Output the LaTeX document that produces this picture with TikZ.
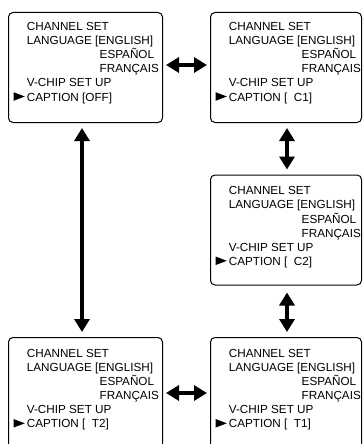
\documentclass[tikz,border=0pt]{standalone}
\usepackage{fontspec}
\setmainfont{Liberation Sans}
\usetikzlibrary{arrows.meta,calc}
\tikzset{
  menubox/.style={draw=black, line width=1pt, rounded corners=4.5pt, inner sep=0pt, anchor=north west},
  menutext/.style={anchor=base west, inner sep=0pt, font=\fontsize{11.7}{14}\selectfont},
  dblarrow/.style={line width=4.6pt, {Triangle[width=15pt,length=13pt]}-{Triangle[width=15pt,length=13pt]}},
  marker/.style={fill=black}
}
% #1 name, #2 x0, #3 y0, #4 width, #5 first-baseline offset, #6 caption value, #7 height
\newcommand\menubox[7]{%
  \node[menubox, minimum width=#4pt, minimum height=#7pt] (#1) at (#2,-#3) {};
  \node[menutext] (#1l1) at ({#2+18.7},{-(#3+#5)}) {CHANNEL SET};
  \node[menutext] (#1l2) at ({#2+18.7},{-(#3+#5+14.1)}) {LANGUAGE [ENGLISH]};
  \node[menutext] (#1l3) at ({#2+91.5},{-(#3+#5+28.2)}) {ESPAÑOL};
  \node[menutext] (#1l4) at ({#2+91.5},{-(#3+#5+42.3)}) {FRANÇAIS};
  \node[menutext] (#1l5) at ({#2+18.7},{-(#3+#5+56.4)}) {V-CHIP SET UP};
  \node[menutext] (#1l6) at ({#2+18.7},{-(#3+#5+70.5)}) {CAPTION #6};
  \fill[marker] ({#2+5.5},{-(#3+#5+70.5)+0.2}) -- ({#2+5.5},{-(#3+#5+70.5)+8.8}) -- ({#2+16.8},{-(#3+#5+70.5)+4.5}) -- cycle;
}
\begin{document}
\begin{tikzpicture}[x=1pt,y=1pt]
\useasboundingbox (0,0) rectangle (362,-444);
\clip (0,0) rectangle (362,-444);
\menubox{b1}{8}{12}{154}{18.5}{[OFF]}{110}
\menubox{b2}{210}{12}{151}{18.5}{[\ \ C1]}{110}
\menubox{b3}{210}{174.5}{151}{20.3}{[\ \ C2]}{110}
\menubox{b4}{8}{337}{154}{20.3}{[\ \ T2]}{130}
\menubox{b5}{210}{337}{151}{20.3}{[\ \ T1]}{130}
% arrows
\draw[dblarrow] ([xshift=3pt]b1.east |- 0,-65) -- ([xshift=-3pt]b2.west |- 0,-65);
\draw[dblarrow] ([xshift=3pt]b4.east |- 0,-393) -- ([xshift=-3pt]b5.west |- 0,-393);
\path (287,0 |- b2.south) ++(0,-5) coordinate (v1a) (287,0 |- b3.north) ++(0,5) coordinate (v1b);
\draw[dblarrow] (v1a) -- (v1b);
\path (287,0 |- b3.south) ++(0,-7) coordinate (v2a) (287,0 |- b5.north) ++(0,5) coordinate (v2b);
\draw[dblarrow] (v2a) -- (v2b);
\path (82,0 |- b1.south) ++(0,-5) coordinate (v3a) (82,0 |- b4.north) ++(0,5) coordinate (v3b);
\draw[dblarrow] (v3a) -- (v3b);
\end{tikzpicture}
\end{document}
